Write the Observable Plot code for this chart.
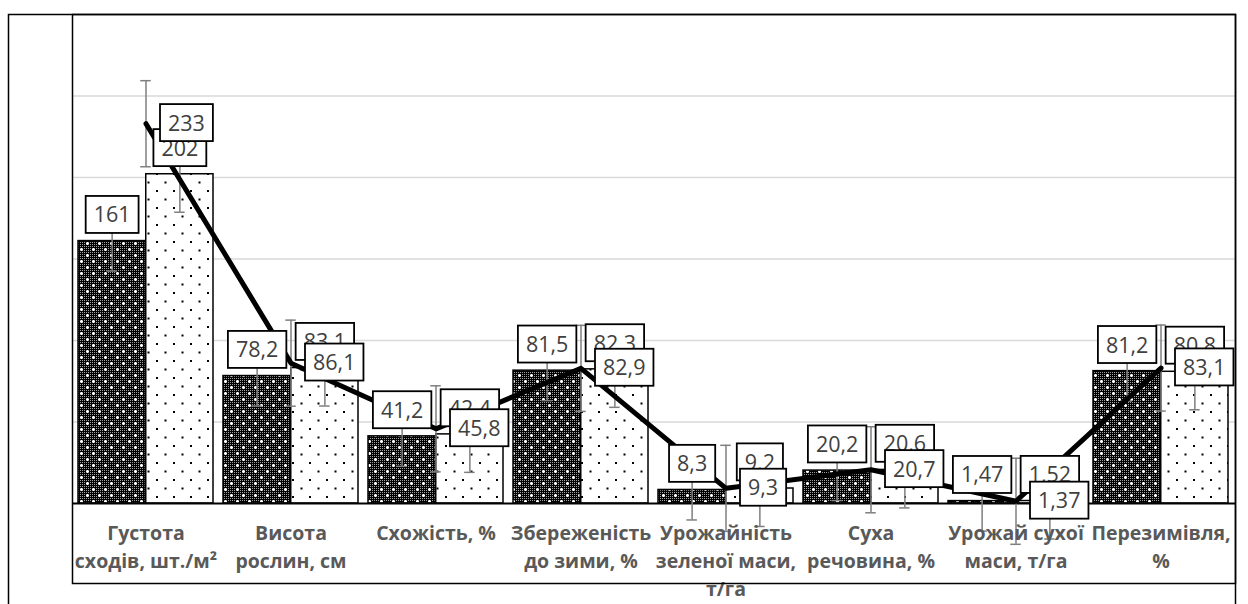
<!DOCTYPE html>
<html><head><meta charset="utf-8">
<script src="https://cdn.jsdelivr.net/npm/d3@7"></script>
<script src="https://cdn.jsdelivr.net/npm/@observablehq/plot@0.6"></script>
<style>body{margin:0;background:#fff} svg{display:block;background:#fff}</style>
</head><body><div id="chart"></div>
<script>
const categories = ["Густота\nсходів, шт./м²", "Висота\nрослин, см", "Схожість, %", "Збереженість\nдо зими, %", "Урожайність\nзеленої маси,\nт/га", "Суха\nречовина, %", "Урожай сухої\nмаси, т/га", "Перезимівля,\n%"];
const series1 = [161, 78.2, 41.2, 81.5, 8.3, 20.2, 1.47, 81.2];
const series2 = [202, 83.1, 42.4, 82.3, 9.2, 20.6, 1.52, 80.8];
const series3 = [233, 86.1, 45.8, 82.9, 9.3, 20.7, 1.37, 83.1];
const error1 = [18.4, 18.4, 18.4, 18.4, 18.4, 18.4, 18.4, 18.4];
const error2 = [23.3, 23.3, 23.3, 23.3, 23.3, 23.3, 23.3, 23.3];
const error3 = [26.4, 26.4, 26.4, 26.4, 26.4, 26.4, 26.4, 26.4];
const gridValues = [50, 100, 150, 200, 250];

const W = 1248, H = 604, mL = 72, mR = 13, mT = 14, mB = 101;
const pi = 0.068, po = 0.034;
const step = (W - mL - mR) / (categories.length - pi + 2 * po);
const bw = step * (1 - pi);
const q = bw / 4;

const rows = (vals, errs) => categories.map((c, i) => ({cat: c, v: vals[i], e: errs[i], label: String(vals[i]).replace(".", ",")}));
const r1 = rows(series1, error1), r2 = rows(series2, error2), r3 = rows(series3, error3);
const catRows = categories.map(c => ({cat: c}));

const errColor = "#7f7f7f";
function errorBars(data, dx) {
  const cap = (bw - 11) / 2;
  return [
    Plot.ruleX(data, {x: "cat", y1: d => d.v - d.e, y2: d => d.v + d.e, dx, stroke: errColor, strokeWidth: 1.5}),
    Plot.tickY(data, {x: "cat", y: d => d.v - d.e, dx, insetLeft: cap, insetRight: cap, stroke: errColor, strokeWidth: 1.5}),
    Plot.tickY(data, {x: "cat", y: d => d.v + d.e, dx, insetLeft: cap, insetRight: cap, stroke: errColor, strokeWidth: 1.5})
  ];
}
const LABEL_FILL = "#404040";
const labelStyle = {text: "label", fontSize: 21.5, fill: LABEL_FILL, fontFamily: "Open Sans"};

const svg = Plot.plot({
  width: W, height: H,
  marginLeft: mL, marginRight: mR, marginTop: mT, marginBottom: mB,
  x: {type: "band", domain: categories, paddingInner: pi, paddingOuter: po, axis: null},
  y: {domain: [0, 300], axis: null},
  style: {background: "#fff"},
  marks: [
    Plot.ruleY(gridValues, {stroke: "#d9d9d9", strokeWidth: 1.5}),
    Plot.barY(r1, {x: "cat", y: "v", insetRight: bw / 2, fill: "url(#p1)", stroke: "#000", strokeWidth: 1.5}),
    Plot.barY(r2, {x: "cat", y: "v", insetLeft: bw / 2, fill: "url(#p2)", stroke: "#000", strokeWidth: 1.5}),
    Plot.ruleY([0], {stroke: "#000", strokeWidth: 1.8}),
    ...errorBars(r1, -q),
    ...errorBars(r2, q),
    ...errorBars(r3, 0),
    Plot.line(r3, {x: "cat", y: "v", stroke: "#000", strokeWidth: 5}),
    Plot.text(r1, {x: "cat", y: "v", dx: -q, dy: -25.5, ...labelStyle}),
    Plot.text(r2, {x: "cat", y: "v", dx: q, dy: -25.5, ...labelStyle}),
    Plot.text(r3, {x: "cat", y: "v", dx: 22, textAnchor: "start", ...labelStyle}),
    Plot.text(catRows, {x: "cat", y: 0, text: "cat", lineAnchor: "top", dy: 17, lineHeight: 1.42, fontSize: 19.5, fontWeight: "bold", fill: "#595959", fontFamily: "Open Sans"}),
    Plot.frame({insetBottom: -80, stroke: "#000", strokeWidth: 1.5}),
    Plot.frame({insetLeft: -64, insetBottom: -140, stroke: "#000", strokeWidth: 1.5})
  ]
});

// patterns
const ds = d3.select(svg).insert("defs", ":first-child");
const p0 = ds.append("pattern").attr("id", "p0").attr("width", 2).attr("height", 2).attr("patternUnits", "userSpaceOnUse");
p0.append("rect").attr("width", 2).attr("height", 2).attr("fill", "#000");
p0.append("rect").attr("width", 1).attr("height", 1).attr("fill", "#a0a0a0");
const p1 = ds.append("pattern").attr("id", "p1").attr("width", 12).attr("height", 12).attr("patternUnits", "userSpaceOnUse");
p1.append("rect").attr("width", 12).attr("height", 12).attr("fill", "url(#p0)");
p1.append("path").attr("d", "M3 2h1v3h-1z M2 3h3v1h-3z M9 8h1v3h-1z M8 9h3v1h-3z").attr("fill", "#fff");
const p2 = ds.append("pattern").attr("id", "p2").attr("width", 17).attr("height", 17).attr("patternUnits", "userSpaceOnUse");
p2.append("rect").attr("width", 17).attr("height", 17).attr("fill", "#fff");
p2.append("rect").attr("x", 3).attr("y", 3).attr("width", 2).attr("height", 2).attr("fill", "#000");
p2.append("rect").attr("x", 11.5).attr("y", 11.5).attr("width", 2).attr("height", 2).attr("fill", "#000");

document.getElementById("chart").append(svg);

// boxes behind data labels
const labelTexts = [];
svg.querySelectorAll("text").forEach(t => {
  const fill = t.closest("[fill]") ? t.closest("[fill]").getAttribute("fill") : null;
  if (fill && fill.toLowerCase() === LABEL_FILL) labelTexts.push(t);
});
labelTexts.forEach(t => {
  const b = t.getBBox();
  const r = document.createElementNS("http://www.w3.org/2000/svg", "rect");
  const cy = b.y + b.height / 2 + 0.5;
  r.setAttribute("x", b.x - 8);
  r.setAttribute("y", cy - 18.5);
  r.setAttribute("width", b.width + 16);
  r.setAttribute("height", 37);
  r.setAttribute("fill", "#fff");
  r.setAttribute("stroke", "#000");
  r.setAttribute("stroke-width", 1.8);
  const tr = t.getAttribute("transform");
  if (tr) r.setAttribute("transform", tr);
  t.parentNode.insertBefore(r, t);
});
</script></body></html>
